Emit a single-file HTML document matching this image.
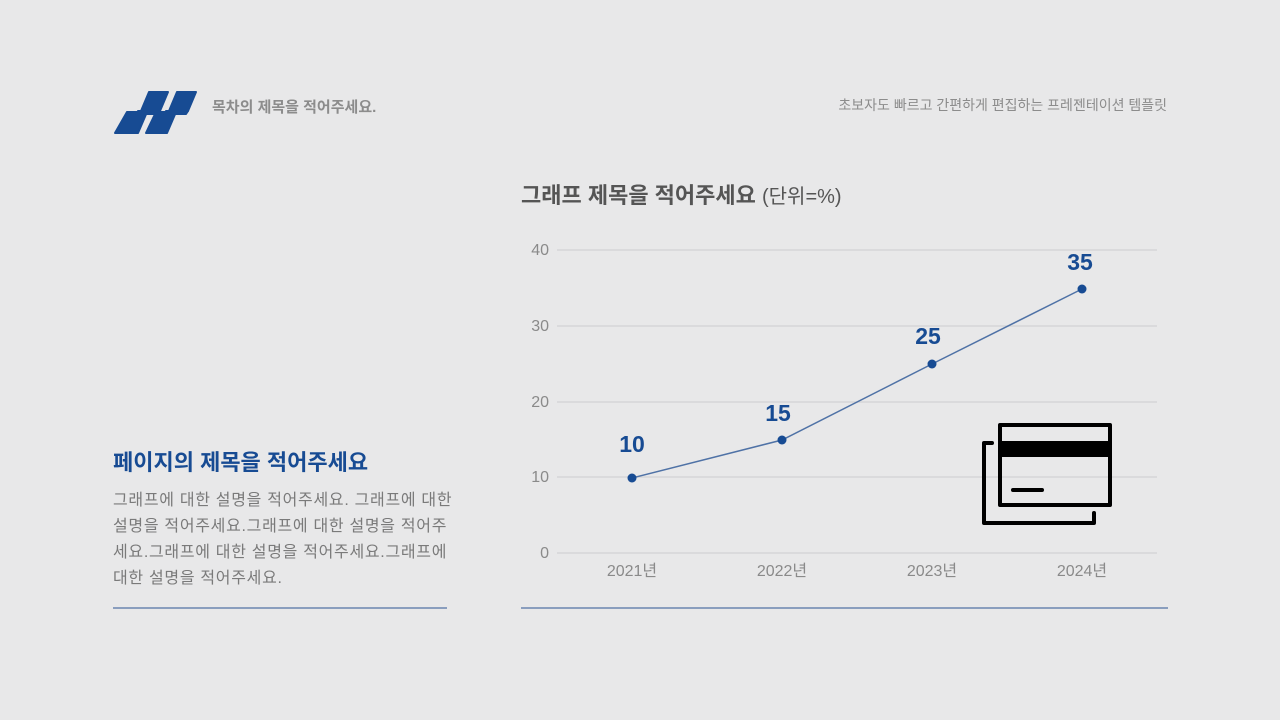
<!DOCTYPE html>
<html><head><meta charset="utf-8"><style>
body{margin:0;width:1280px;height:720px;background:#e8e8e9;font-family:"Liberation Sans","Noto Sans CJK KR",sans-serif;position:relative;overflow:hidden}
.t{position:absolute;white-space:nowrap}
</style></head><body>
<svg width="1280" height="720" style="position:absolute;left:0;top:0">
<g fill="#174b93" stroke="#174b93" stroke-width="2" stroke-linejoin="round">
<polygon points="149,92 168,92 160,111 141,111"/>
<polygon points="127,112 147,112 138,133 115,133"/>
<polygon points="177,92 196,92 188,111 169,111"/>
<polygon points="156,112 176,112 167,133 146,133"/>
<polygon points="138,111 160,111 158,114 136,114"/>
<polygon points="166,111 188,111 186,114 164,114"/>
</g>
<g stroke="#d6d6d8" stroke-width="1.5">
<line x1="557" y1="250" x2="1157" y2="250"/>
<line x1="557" y1="326" x2="1157" y2="326"/>
<line x1="557" y1="402" x2="1157" y2="402"/>
<line x1="557" y1="477" x2="1157" y2="477"/>
<line x1="557" y1="553" x2="1157" y2="553"/>
</g>
<g font-family="Liberation Sans, sans-serif" font-size="16" fill="#8a8a8a" text-anchor="end">
<text x="549" y="255">40</text><text x="549" y="331">30</text><text x="549" y="407">20</text><text x="549" y="482">10</text><text x="549" y="558">0</text>
</g>
<g font-family="Liberation Sans, Noto Sans CJK KR, sans-serif" font-size="16" fill="#8a8a8a" text-anchor="middle">
<text x="632" y="576">2021년</text><text x="782" y="576">2022년</text><text x="932" y="576">2023년</text><text x="1082" y="576">2024년</text>
</g>
<polyline points="632,478 782,440 932,364 1082,289" fill="none" stroke="#4f72a6" stroke-width="1.5"/>
<g fill="#174b93"><circle cx="632" cy="478" r="4.5"/><circle cx="782" cy="440" r="4.5"/><circle cx="932" cy="364" r="4.5"/><circle cx="1082" cy="289" r="4.5"/></g>
<g font-family="Liberation Sans, sans-serif" font-size="23" font-weight="bold" fill="#174b93" text-anchor="middle">
<text x="632" y="452">10</text><text x="778" y="421">15</text><text x="928" y="344">25</text><text x="1080" y="270">35</text>
</g>
<g fill="none" stroke="#000" stroke-width="4" stroke-linecap="round" stroke-linejoin="round">
<rect x="1000" y="425" width="110" height="80"/>
<polyline points="992,443 984,443 984,523 1094,523 1094,513"/>
<line x1="1013" y1="490" x2="1042" y2="490"/>
</g>
<rect x="1000" y="441" width="110" height="16" fill="#000"/>
<line x1="113" y1="608" x2="447" y2="608" stroke="#2c5592" stroke-width="1"/>
<line x1="521" y1="608" x2="1168" y2="608" stroke="#2c5592" stroke-width="1"/>
</svg>
<div class="t" style="left:212px;top:96px;font-size:15px;font-weight:bold;color:#8c8c8c">목차의 제목을 적어주세요.</div>
<div class="t" style="right:113px;top:95px;font-size:14px;color:#8c8c8c">초보자도 빠르고 간편하게 편집하는 프레젠테이션 템플릿</div>
<div class="t" style="left:521px;top:178px;font-size:22px;font-weight:bold;color:#555">그래프 제목을 적어주세요 <span style="font-weight:normal;font-size:20px">(단위=%)</span></div>
<div class="t" style="left:113px;top:445px;font-size:22px;font-weight:bold;color:#174b93">페이지의 제목을 적어주세요</div>
<div class="t" style="left:113px;top:488px;font-size:16px;line-height:26px;color:#7a7a7a;white-space:normal;width:344px;word-break:break-all;letter-spacing:0.7px">그래프에 대한 설명을 적어주세요. 그래프에 대한 설명을 적어주세요.그래프에 대한 설명을 적어주세요.그래프에 대한 설명을 적어주세요.그래프에 대한 설명을 적어주세요.</div>
</body></html>
